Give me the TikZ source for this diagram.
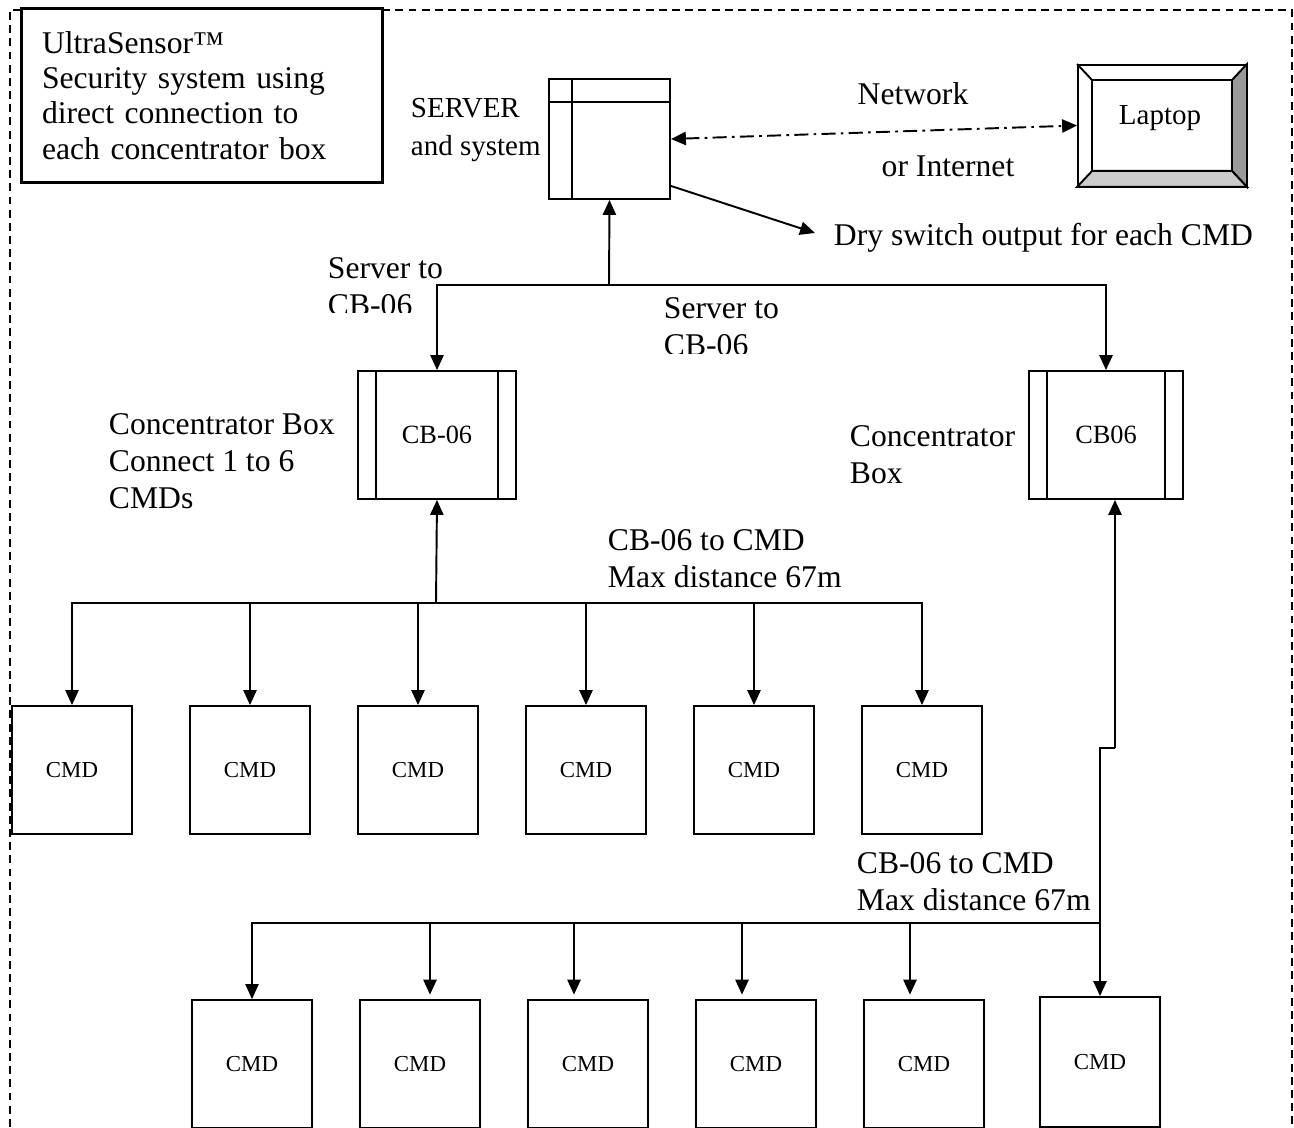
\documentclass[tikz,border=0pt]{standalone}
\usepackage{fontspec}
\setmainfont{Liberation Serif}
\usetikzlibrary{arrows.meta}

\begin{document}
\begin{tikzpicture}[x=0.02cm,y=-0.02cm,>={Triangle[length=8.5pt,width=7.5pt]},line width=1.1pt,
  font=\fontsize{18}{21}\selectfont,
  lbl/.style={anchor=west,align=left,inner sep=0pt},
  cmdbox/.style={draw,minimum width=2.4cm,minimum height=2.56cm,inner sep=0pt,font=\fontsize{13}{15}\selectfont},
  cbbox/.style={draw,minimum height=2.56cm,inner sep=0pt,font=\fontsize{15}{17}\selectfont},
  netline/.style={dash pattern=on 8pt off 3pt on 1.5pt off 3pt}]
\useasboundingbox (0,0) rectangle (1294,1128);
\clip (0,0) rectangle (1294,1128);
% outer frame
\draw[line width=0.6pt,dash pattern=on 4.5pt off 3pt] (10,1140) -- (10,10) -- (1292,10) -- (1292,1140);
% title
\node[draw,fill=white,line width=1.7pt,minimum width=7.24cm,minimum height=3.5cm,text width=6.4cm,align=left,inner sep=0pt,font=\fontsize{18}{20}\selectfont] (title) at (202,95.5) {UltraSensor™\\Security system using\\direct connection to\\each concentrator box};
% server
\node[draw,minimum width=2.42cm,minimum height=2.4cm,inner sep=0pt] (server) at (609.5,139) {};
\draw ([xshift=0.48cm]server.north west) -- ([xshift=0.48cm]server.south west);
\draw ([yshift=-0.48cm]server.north west) -- ([yshift=-0.48cm]server.north east);
\node[lbl,font=\fontsize{16.5}{22}\selectfont] (srvlbl) at (410,130) {SERVER\\and system};
% laptop
\node[draw,minimum width=3.36cm,minimum height=2.42cm,inner sep=0pt] (laptop) at (1162,125.5) {};
\filldraw[fill=black!40] (laptop.north east) -- (laptop.south east) -- ([xshift=-0.3cm,yshift=0.32cm]laptop.south east) -- ([xshift=-0.3cm,yshift=-0.32cm]laptop.north east) -- cycle;
\filldraw[fill=black!20] (laptop.south west) -- (laptop.south east) -- ([xshift=-0.3cm,yshift=0.32cm]laptop.south east) -- ([xshift=0.3cm,yshift=0.32cm]laptop.south west) -- cycle;
\draw ([xshift=0.3cm,yshift=-0.32cm]laptop.north west) rectangle ([xshift=-0.3cm,yshift=0.32cm]laptop.south east);
\draw (laptop.north west) -- ([xshift=0.3cm,yshift=-0.32cm]laptop.north west);
\node[font=\fontsize{16.5}{18}\selectfont] (laptoptxt) at (1160,118) {Laptop};
\draw[<->,netline] (server.east) -- (laptop.west);
\node (net) at (913,94) {Network};
\node (inet) at (948,166) {or Internet};
% dry switch output
\coordinate (dry) at (815,233);
\draw[->] ([yshift=0.28cm]server.south east) -- (dry);
\node[lbl] (drylbl) at (833,238) {Dry switch output for each CMD};
% server to concentrator boxes
\node[cbbox,minimum width=3.16cm] (cbA) at (437,435) {CB-06};
\node[cbbox,minimum width=3.08cm] (cbB) at (1106,435) {CB06};
\draw[line width=0.8pt] ([xshift=0.38cm]cbA.north west) -- ([xshift=0.38cm]cbA.south west);
\draw[line width=0.8pt] ([xshift=-0.38cm]cbA.north east) -- ([xshift=-0.38cm]cbA.south east);
\draw[line width=0.8pt] ([xshift=0.38cm]cbB.north west) -- ([xshift=0.38cm]cbB.south west);
\draw[line width=0.8pt] ([xshift=-0.38cm]cbB.north east) -- ([xshift=-0.38cm]cbB.south east);
\coordinate (busS) at (609,285);
\draw[->] (busS) -- (server.south);
\draw[->] (busS) -| (cbA.north);
\draw[->] (busS) -| (cbB.north);
\begin{scope}
\clip (300,240) rectangle (560,313);
\node[lbl] (srvcbA) at (327,287) {Server to\\CB-06};
\end{scope}
\begin{scope}
\clip (640,280) rectangle (900,353);
\node[lbl] (srvcbB) at (663,327) {Server to\\CB-06};
\end{scope}
\node[lbl] (cbAlbl) at (108,461) {Concentrator Box\\Connect 1 to 6\\CMDs};
\node[lbl] (cbBlbl) at (849,455) {Concentrator\\Box};
% first row of CMDs
\node[cmdbox] (cmdA1) at (72,770) {CMD};
\node[cmdbox] (cmdA2) at (250,770) {CMD};
\node[cmdbox] (cmdA3) at (418,770) {CMD};
\node[cmdbox] (cmdA4) at (586,770) {CMD};
\node[cmdbox] (cmdA5) at (754,770) {CMD};
\node[cmdbox] (cmdA6) at (922,770) {CMD};
\coordinate (busA) at (436,603);
\draw[->] (busA) -- (cbA.south);
\draw[->] (busA) -| (cmdA1.north);
\draw[->] (busA) -| (cmdA2.north);
\draw[->] (busA) -| (cmdA3.north);
\draw[->] (busA) -| (cmdA4.north);
\draw[->] (busA) -| (cmdA5.north);
\draw[->] (busA) -| (cmdA6.north);
\node[lbl] (distA) at (607,559) {CB-06 to CMD\\Max distance 67m};
% second row of CMDs
\node[cmdbox] (cmdB1) at (252,1064) {CMD};
\node[cmdbox] (cmdB2) at (420,1064) {CMD};
\node[cmdbox] (cmdB3) at (588,1064) {CMD};
\node[cmdbox] (cmdB4) at (756,1064) {CMD};
\node[cmdbox] (cmdB5) at (924,1064) {CMD};
\node[cmdbox,minimum height=2.6cm] (cmdB6) at (1100,1062) {CMD};
\coordinate (jogB) at (1115,748);
\coordinate (busB) at (1100,923);
\draw[->] (jogB) -- (jogB |- cbB.south);
\draw (jogB) -- (busB |- jogB) -- (busB);
\draw[->] (busB) -- (cmdB6.north);
\draw[->] (busB) -| (cmdB1.north);
\coordinate (dropB2) at (430,923);
\coordinate (dropB3) at (574,923);
\coordinate (dropB4) at (742,923);
\coordinate (dropB5) at (910,923);
\draw[->,shorten >=2.5pt] (dropB2) -- (dropB2 |- cmdB2.north);
\draw[->,shorten >=2.5pt] (dropB3) -- (dropB3 |- cmdB3.north);
\draw[->,shorten >=2.5pt] (dropB4) -- (dropB4 |- cmdB4.north);
\draw[->,shorten >=2.5pt] (dropB5) -- (dropB5 |- cmdB5.north);
\node[lbl] (distB) at (856,882) {CB-06 to CMD\\Max distance 67m};
\end{tikzpicture}
\end{document}
